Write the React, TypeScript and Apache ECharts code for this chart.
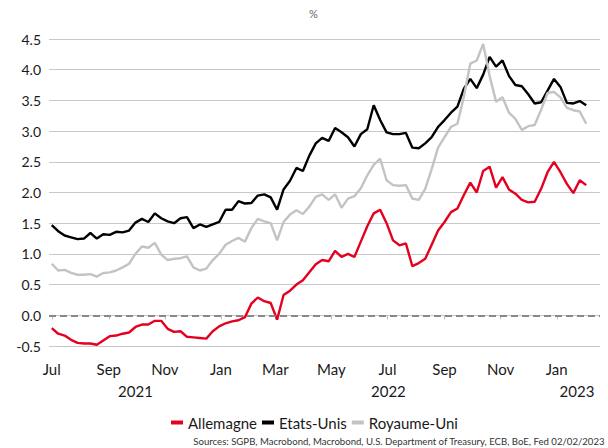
import React, { useEffect, useRef } from "react";
import * as echarts from "echarts";

const START_DAY = "2021-06-28";
const END_DAY = "2023-02-17";
const FIRST_OBS = "2021-07-01";
const STEP_DAYS = 7;

const seriesNames = ["Allemagne", "Etats-Unis", "Royaume-Uni"];
const seriesColors = ["#e4001e", "#000000", "#c3c3c3"];

const allemagne = [
  -0.21, -0.3, -0.33, -0.4, -0.45, -0.46, -0.46, -0.48, -0.41, -0.34,
  -0.33, -0.3, -0.28, -0.19, -0.15, -0.15, -0.09, -0.09, -0.22, -0.27,
  -0.26, -0.35, -0.36, -0.37, -0.38, -0.26, -0.18, -0.13, -0.1, -0.08,
  -0.03, 0.19, 0.29, 0.23, 0.2, -0.07, 0.33, 0.4, 0.5, 0.57,
  0.7, 0.83, 0.9, 0.88, 1.05, 0.95, 1.0, 0.95, 1.2, 1.45,
  1.66, 1.72, 1.5, 1.22, 1.14, 1.17, 0.8, 0.85, 0.92, 1.15,
  1.38, 1.52, 1.68, 1.74, 1.96, 2.16, 2.0, 2.35, 2.42, 2.08,
  2.25, 2.05, 1.98, 1.88, 1.84, 1.85, 2.06, 2.33, 2.5, 2.33,
  2.14, 1.99, 2.2, 2.12,
];

const etatsUnis = [
  1.47, 1.37, 1.3, 1.27, 1.24, 1.25, 1.34, 1.25, 1.32, 1.31,
  1.36, 1.35, 1.38, 1.51, 1.57, 1.52, 1.66, 1.58, 1.53, 1.5,
  1.58, 1.6, 1.42, 1.48, 1.44, 1.48, 1.52, 1.72, 1.72, 1.86,
  1.82, 1.83, 1.95, 1.97, 1.92, 1.72, 2.05, 2.19, 2.4, 2.35,
  2.6, 2.8, 2.89, 2.84, 3.05, 2.98, 2.9, 2.75, 2.95, 3.03,
  3.42, 3.18, 2.98, 2.95, 2.95, 2.97, 2.73, 2.72, 2.8, 2.9,
  3.07, 3.18, 3.3, 3.4, 3.69, 3.85, 3.7, 3.92, 4.21, 4.05,
  4.15, 3.9, 3.75, 3.73, 3.6, 3.45, 3.47, 3.66, 3.85, 3.72,
  3.46, 3.45, 3.49, 3.42,
];

const royaumeUni = [
  0.84, 0.73, 0.74, 0.69, 0.66, 0.66, 0.67, 0.63, 0.69, 0.7,
  0.73, 0.78, 0.84, 1.0, 1.12, 1.1, 1.18, 0.99, 0.9, 0.92,
  0.93, 0.96, 0.78, 0.73, 0.76, 0.9, 1.0, 1.15, 1.21, 1.26,
  1.2, 1.42, 1.57, 1.53, 1.5, 1.22, 1.52, 1.64, 1.71, 1.65,
  1.77, 1.93, 1.97, 1.88, 1.97, 1.75, 1.9, 1.94, 2.07, 2.28,
  2.45, 2.55, 2.2, 2.12, 2.11, 2.12, 1.9, 1.88, 2.06, 2.38,
  2.73, 2.9, 3.07, 3.12, 3.56, 4.1, 4.15, 4.42, 3.9, 3.48,
  3.55, 3.3, 3.2, 3.02, 3.08, 3.1, 3.35, 3.62, 3.64, 3.55,
  3.38, 3.34, 3.32, 3.12,
];

const monthLabels: Record<string, string> = {
  "01": "Jan", "03": "Mar", "05": "May", "07": "Jul", "09": "Sep", "11": "Nov",
};
const yearLabels: Record<string, string> = {
  "2021-09-30": "2021",
  "2022-07-02": "2022",
  "2023-01-23": "2023",
};
const yTicks = { min: -0.5, max: 4.5, interval: 0.5 };
const unitLabel = "%";
const sourceLabel =
  "Sources: SGPB, Macrobond, Macrobond, U.S. Department of Treasury, ECB, BoE, Fed 02/02/2023";

function fmt(d: Date) {
  return d.toISOString().slice(0, 10);
}
function dayRange(a: string, b: string) {
  const out: string[] = [];
  const d = new Date(a + "T00:00:00Z");
  const e = new Date(b + "T00:00:00Z");
  while (d <= e) {
    out.push(fmt(d));
    d.setUTCDate(d.getUTCDate() + 1);
  }
  return out;
}
function obsDates(start: string, n: number, step: number) {
  const out: string[] = [];
  const d = new Date(start + "T00:00:00Z");
  for (let i = 0; i < n; i++) {
    out.push(fmt(d));
    d.setUTCDate(d.getUTCDate() + step);
  }
  return out;
}

export default function App() {
  const ref = useRef<HTMLDivElement>(null);
  useEffect(() => {
    if (!ref.current) return;
    document.body.style.margin = "0";
    const chart = echarts.init(ref.current, undefined, { renderer: "svg" });
    const days = dayRange(START_DAY, END_DAY);
    const dates = obsDates(FIRST_OBS, allemagne.length, STEP_DAYS);
    const values = [allemagne, etatsUnis, royaumeUni];
    const isMonthTick = (_i: number, v: string) =>
      v.slice(8) === "01" && monthLabels[v.slice(5, 7)] !== undefined;
    const font = "Lato";
    chart.setOption({
      animation: false,
      textStyle: { fontFamily: font },
      grid: { left: 49, right: 8, top: 39, bottom: 102, containLabel: false },
      xAxis: [
        {
          type: "category",
          data: days,
          boundaryGap: false,
          position: "bottom",
          offset: 9,
          axisLine: { show: false },
          axisTick: {
            show: true,
            interval: isMonthTick,
            length: 4,
            lineStyle: { color: "#bbbbbb" },
          },
          axisLabel: {
            interval: isMonthTick,
            formatter: (v: string) => monthLabels[v.slice(5, 7)] || "",
            fontSize: 15,
            color: "#1a1a1a",
            margin: 6,
            fontFamily: font,
          },
          splitLine: { show: false },
        },
        {
          type: "category",
          data: days,
          boundaryGap: false,
          position: "bottom",
          offset: 31,
          axisLine: { show: false },
          axisTick: { show: false },
          axisLabel: {
            interval: (_i: number, v: string) => yearLabels[v] !== undefined,
            formatter: (v: string) => yearLabels[v] || "",
            fontSize: 15,
            color: "#1a1a1a",
            margin: 6,
            fontFamily: font,
          },
          splitLine: { show: false },
        },
      ],
      yAxis: {
        type: "value",
        min: yTicks.min,
        max: yTicks.max,
        interval: yTicks.interval,
        axisLine: { show: false },
        axisTick: { show: false },
        axisLabel: {
          formatter: (v: number) => v.toFixed(1),
          fontSize: 14,
          color: "#1a1a1a",
          margin: 8,
          fontFamily: font,
        },
        splitLine: { lineStyle: { color: "#c8c8c8", width: 1 } },
      },
      legend: {
        data: seriesNames,
        left: 166,
        top: 410,
        icon: "rect",
        itemWidth: 12,
        itemHeight: 4,
        itemGap: 5,
        textStyle: { fontSize: 15, color: "#1a1a1a", fontFamily: font },
      },
      graphic: [
        {
          type: "text",
          left: 309,
          top: 8,
          style: { text: unitLabel, fontSize: 11, fill: "#666", fontFamily: font },
        },
        {
          type: "text",
          right: 3,
          top: 436,
          style: { text: sourceLabel, fontSize: 9.6, fill: "#333", fontFamily: font },
        },
      ],
      series: seriesNames.map((name, si) => ({
        name,
        type: "line",
        xAxisIndex: 0,
        showSymbol: false,
        symbol: "none",
        color: seriesColors[si],
        lineStyle: { width: 2.4, color: seriesColors[si] },
        data: dates.map((d, i) => [d, values[si][i]]),
        markLine:
          si === 0
            ? {
                silent: true,
                symbol: ["none", "none"],
                label: { show: false },
                lineStyle: { type: [7, 4], color: "#888", width: 2 },
                data: [{ yAxis: 0 }],
              }
            : undefined,
      })),
    });
    return () => chart.dispose();
  }, []);
  return <div ref={ref} style={{ width: 608, height: 448 }} />;
}
